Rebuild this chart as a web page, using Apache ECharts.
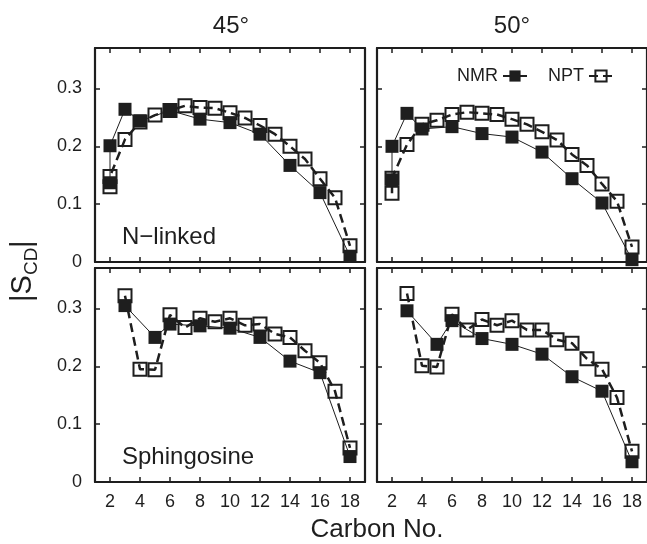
<!DOCTYPE html>
<html><head><meta charset="utf-8">
<script src="https://cdn.jsdelivr.net/npm/echarts@6/dist/echarts.min.js"></script>
<style>html,body{margin:0;padding:0;background:#fff}#c{width:647px;height:544px}</style>
</head><body><div id="c"></div>
<script>
// ---- data ----
const panelTitles = ['45°', '50°'];
const rowLabels = ['N\u2212linked', 'Sphingosine'];
const xTicks = [2, 4, 6, 8, 10, 12, 14, 16, 18];
const yTicks = [0, 0.1, 0.2, 0.3];

const nmrCarbonsN = [2, 2, 3, 4, 6, 8, 10, 12, 14, 16, 18];
const nptCarbonsN = [2, 2, 3, 4, 5, 6, 7, 8, 9, 10, 11, 12, 13, 14, 15, 16, 17, 18];
const nmrCarbonsS = [3, 5, 6, 8, 10, 12, 14, 16, 18];
const nptCarbonsS = [3, 4, 5, 6, 7, 8, 9, 10, 11, 12, 13, 14, 15, 16, 17, 18];

const nmr45N = [0.137, 0.201, 0.264, 0.244, 0.262, 0.247, 0.241, 0.221, 0.167, 0.120, 0.010];
const npt45N = [0.130, 0.148, 0.212, 0.242, 0.254, 0.262, 0.270, 0.267, 0.266, 0.258, 0.249, 0.236, 0.221, 0.200, 0.178, 0.144, 0.111, 0.028];
const nmr50N = [0.142, 0.200, 0.257, 0.230, 0.234, 0.222, 0.216, 0.190, 0.144, 0.102, 0.004];
const npt50N = [0.119, 0.145, 0.203, 0.238, 0.245, 0.255, 0.259, 0.257, 0.255, 0.247, 0.238, 0.225, 0.211, 0.186, 0.167, 0.135, 0.105, 0.026];
const nmr45S = [0.305, 0.250, 0.273, 0.270, 0.266, 0.250, 0.209, 0.189, 0.044];
const npt45S = [0.322, 0.195, 0.194, 0.289, 0.267, 0.283, 0.277, 0.283, 0.271, 0.273, 0.256, 0.250, 0.227, 0.206, 0.157, 0.059];
const nmr50S = [0.296, 0.238, 0.279, 0.248, 0.238, 0.221, 0.182, 0.157, 0.035];
const npt50S = [0.326, 0.201, 0.199, 0.290, 0.263, 0.281, 0.271, 0.279, 0.263, 0.263, 0.246, 0.240, 0.213, 0.195, 0.146, 0.053];

// ---- layout ----
const FONT = 'Liberation Sans, Arial, Helvetica, sans-serif';
const INK = '#1e1e1e';
const grids = [
  {left: 95, top: 48, width: 270, height: 214},
  {left: 377, top: 48, width: 270, height: 214},
  {left: 95, top: 268, width: 270, height: 214},
  {left: 377, top: 268, width: 270, height: 214}
];
const panelData = [
  {nmrX: nmrCarbonsN, nmrY: nmr45N, nptX: nptCarbonsN, nptY: npt45N},
  {nmrX: nmrCarbonsN, nmrY: nmr50N, nptX: nptCarbonsN, nptY: npt50N},
  {nmrX: nmrCarbonsS, nmrY: nmr45S, nptX: nptCarbonsS, nptY: npt45S},
  {nmrX: nmrCarbonsS, nmrY: nmr50S, nptX: nptCarbonsS, nptY: npt50S}
];
const zip = (xs, ys) => xs.map((x, i) => [x, ys[i]]);

const xAxes = [], yAxes = [], series = [];
grids.forEach((g, i) => {
  const bottomRow = i >= 2, leftCol = i % 2 === 0;
  ['bottom', 'top'].forEach(pos => {
    xAxes.push({
      gridIndex: i, type: 'value', min: 1, max: 19, position: pos,
      axisLine: {show: true, onZero: false, lineStyle: {color: INK, width: 2.2}},
      axisTick: {show: true, inside: true, length: 5, customValues: xTicks, lineStyle: {color: INK, width: 1.5}},
      axisLabel: {show: pos === 'bottom' && bottomRow, customValues: xTicks, fontSize: 18, color: INK, margin: 11, fontFamily: FONT},
      splitLine: {show: false}
    });
  });
  ['left', 'right'].forEach(pos => {
    yAxes.push({
      gridIndex: i, type: 'value', min: 0, max: 0.37, position: pos,
      axisLine: {show: true, onZero: false, lineStyle: {color: INK, width: 2.2}},
      axisTick: {show: true, inside: true, length: 5, customValues: yTicks, lineStyle: {color: INK, width: 1.5}},
      axisLabel: {show: pos === 'left' && leftCol, customValues: yTicks, fontSize: 18, color: INK, margin: 13, fontFamily: FONT,
        formatter: v => (Math.abs(v) < 1e-9 ? '0' : v.toFixed(1))},
      splitLine: {show: false}
    });
  });
  const d = panelData[i];
  series.push({
    name: 'NPT', type: 'line', xAxisIndex: 2 * i, yAxisIndex: 2 * i, data: zip(d.nptX, d.nptY),
    symbol: 'rect', symbolSize: 13, z: 2,
    itemStyle: {color: 'rgba(255,255,255,0)', borderColor: INK, borderWidth: 2},
    lineStyle: {color: INK, width: 2.5, type: [9, 5]}
  });
  series.push({
    name: 'NMR', type: 'line', xAxisIndex: 2 * i, yAxisIndex: 2 * i, data: zip(d.nmrX, d.nmrY),
    symbol: 'rect', symbolSize: 13, z: 3,
    itemStyle: {color: INK, borderColor: INK, borderWidth: 0},
    lineStyle: {color: INK, width: 1}
  });
});

const option = {
  animation: false,
  backgroundColor: '#fff',
  grid: grids.map(g => Object.assign({outerBoundsMode: 'none', containLabel: false}, g)),
  xAxis: xAxes,
  yAxis: yAxes,
  series: series,
  legend: {
    data: ['NMR', 'NPT'], left: 452, top: 62, align: 'right', orient: 'horizontal',
    itemWidth: 24, itemHeight: 14, itemGap: 20,
    textStyle: {fontSize: 18, color: INK, fontFamily: FONT}
  },
  graphic: [
    {type: 'text', x: 231, y: 26, style: {text: panelTitles[0], font: '24px ' + FONT, fill: INK, align: 'center', verticalAlign: 'middle'}},
    {type: 'text', x: 512, y: 26, style: {text: panelTitles[1], font: '24px ' + FONT, fill: INK, align: 'center', verticalAlign: 'middle'}},
    {type: 'text', x: 122, y: 237, style: {text: rowLabels[0], font: '24px ' + FONT, fill: INK, align: 'left', verticalAlign: 'middle'}},
    {type: 'text', x: 122, y: 457, style: {text: rowLabels[1], font: '24px ' + FONT, fill: INK, align: 'left', verticalAlign: 'middle'}},
    {type: 'text', x: 377, y: 530, style: {text: 'Carbon No.', font: '26px ' + FONT, fill: INK, align: 'center', verticalAlign: 'middle'}},
    {type: 'group', x: 23, y: 270, rotation: Math.PI / 2, children: [
      {type: 'text', x: -32, y: 0, style: {text: '|S', font: '29px ' + FONT, fill: INK, align: 'left', verticalAlign: 'middle'}},
      {type: 'text', x: -5, y: 9, style: {text: 'CD', font: '19px ' + FONT, fill: INK, align: 'left', verticalAlign: 'middle'}},
      {type: 'text', x: 22, y: 0, style: {text: '|', font: '29px ' + FONT, fill: INK, align: 'left', verticalAlign: 'middle'}}
    ]}
  ]
};
const chart = echarts.init(document.getElementById('c'), null, {renderer: 'canvas'});
chart.setOption(option);
</script>
</body></html>
